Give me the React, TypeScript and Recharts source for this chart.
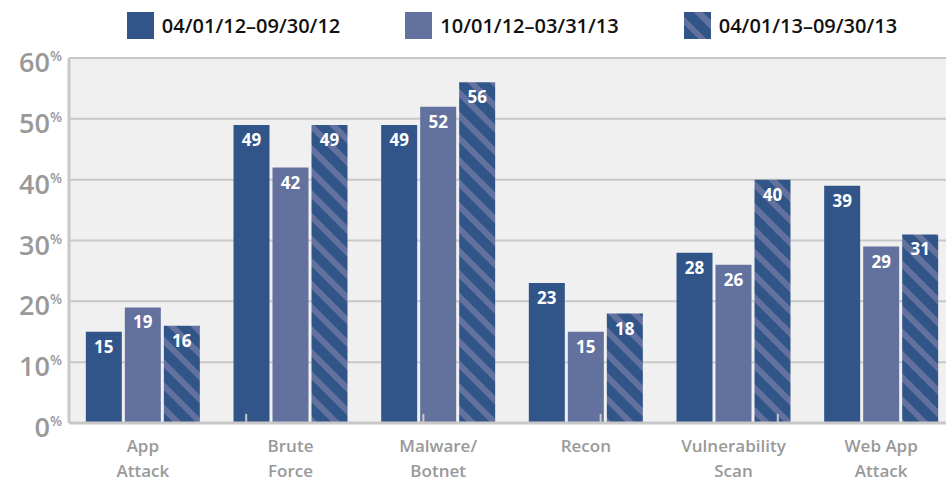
import { BarChart, Bar, XAxis, YAxis, CartesianGrid, ReferenceLine } from 'recharts'

const categories = ['App\nAttack', 'Brute\nForce', 'Malware/\nBotnet', 'Recon', 'Vulnerability\nScan', 'Web App\nAttack']
const period1 = [15, 49, 49, 23, 28, 39]
const period2 = [19, 42, 52, 15, 26, 29]
const period3 = [16, 49, 56, 18, 40, 31]
const seriesNames = ['04/01/12\u201309/30/12', '10/01/12\u201303/31/13', '04/01/13\u201309/30/13']
const yTicks = [0, 10, 20, 30, 40, 50, 60]
const boundaryTicks = [1, 2, 3, 4, 5]

const DARK = '#325589'
const LIGHT = '#63719e'
const FONT = '"Open Sans", sans-serif'

const data = categories.map((c, i) => ({ name: c, p1: period1[i], p2: period2[i], p3: period3[i] }))

const YTick = ({ x, y, payload }: any) => (
    <text x={x + 1} y={y + 14} textAnchor="end" fill="#999" fontFamily={FONT} fontWeight={600}>
        <tspan fontSize={27}>{payload.value}</tspan>
        <tspan fontSize={14} dy={-11}>%</tspan>
    </text>
)

const XTick = ({ x, y, payload }: any) => {
    const lines = String(payload.value).split('\n')
    return (
        <text textAnchor="middle" fill="#999" fontFamily={FONT} fontWeight={600} fontSize={17}>
            {lines.map((l, i) => (
                <tspan key={i} x={x} y={y + 21 + i * 25}>{l}</tspan>
            ))}
        </text>
    )
}

const label = { position: 'insideTop' as const, offset: 9, fill: '#fff', fontSize: 17, fontWeight: 700, fontFamily: FONT }

const swatch = (i: number) =>
    i === 2
        ? { background: `repeating-linear-gradient(45deg, ${DARK} 0px, ${DARK} 10px, ${LIGHT} 10px, ${LIGHT} 16px)` }
        : { background: i === 0 ? DARK : LIGHT }

export default function App() {
    return (
        <div style={{ position: 'absolute', left: 0, top: 0, width: 946, height: 481, overflow: 'hidden', background: '#fff' }}>
            <div style={{ position: 'absolute', left: 69, width: 886, top: 12, display: 'flex', justifyContent: 'center', gap: 65 }}>
                {seriesNames.map((n, i) => (
                    <div key={n} style={{ display: 'flex', alignItems: 'center', gap: 8 }}>
                        <div style={{ width: 27, height: 27, ...swatch(i) }} />
                        <span style={{ fontFamily: FONT, fontWeight: 600, fontSize: 20, color: '#111' }}>{n}</span>
                    </div>
                ))}
            </div>
            <BarChart width={960} height={481} data={data} margin={{ top: 58, right: 5, left: 0, bottom: 0 }}
                barCategoryGap="11.4%" barGap={3}>
                <defs>
                    <pattern id="hatch" patternUnits="userSpaceOnUse" width={16} height={16} patternTransform="rotate(-45)">
                        <rect x={0} y={0} width={16} height={16} fill={DARK} />
                        <rect x={0} y={0} width={6} height={16} fill={LIGHT} />
                    </pattern>
                </defs>
                <CartesianGrid vertical={false} stroke="#c8c8c8" strokeWidth={2} fill="#f0f0f0" />
                <XAxis dataKey="name" height={58} tick={<XTick />} tickLine={false} axisLine={{ stroke: '#c8c8c8', strokeWidth: 3 }} interval={0} />
                <XAxis xAxisId="b" type="number" domain={[0, 6]} hide />
                <YAxis domain={[0, 60]} ticks={yTicks} width={69} tick={<YTick />} tickLine={false}
                    axisLine={{ stroke: '#c8c8c8', strokeWidth: 3 }} />
                {boundaryTicks.map((t) => (
                    <ReferenceLine key={t} xAxisId="b" segment={[{ x: t, y: 0 }, { x: t, y: 1.5 }]}
                        stroke="#c8c8c8" strokeWidth={2} ifOverflow="visible" />
                ))}
                <Bar dataKey="p1" name={seriesNames[0]} fill={DARK} isAnimationActive={false} label={label} />
                <Bar dataKey="p2" name={seriesNames[1]} fill={LIGHT} isAnimationActive={false} label={label} />
                <Bar dataKey="p3" name={seriesNames[2]} fill="url(#hatch)" isAnimationActive={false} label={label} />
            </BarChart>
        </div>
    )
}
